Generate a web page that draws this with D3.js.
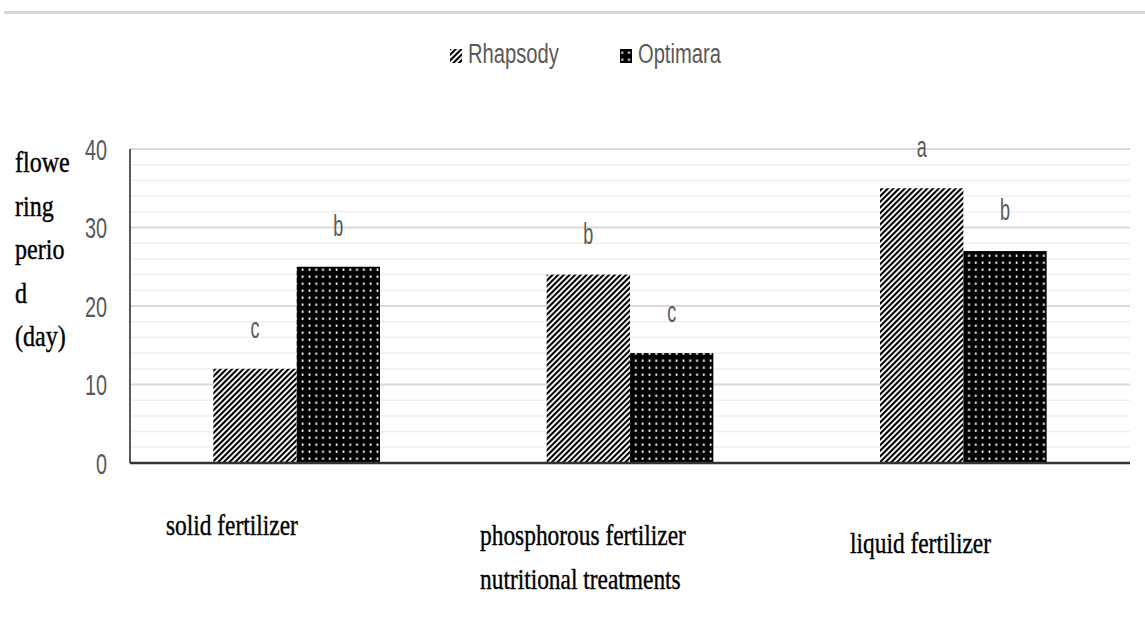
<!DOCTYPE html>
<html><head><meta charset="utf-8">
<script src="https://cdn.jsdelivr.net/npm/d3@7"></script>
<style>body{margin:0;background:#fff}svg{display:block}</style>
</head><body>
<svg id="c" width="1145" height="641"></svg>
<script>
const categories = ["solid fertilizer", "phosphorous fertilizer", "liquid fertilizer"];
const categoryLines = [["solid fertilizer"], ["phosphorous fertilizer", "nutritional treatments"], ["liquid fertilizer"]];
const seriesNames = ["Rhapsody", "Optimara"];
const rhapsody = [12, 24, 35];
const optimara = [25, 14, 27];
const rhapsodyLetters = ["c", "b", "a"];
const optimaraLetters = ["b", "c", "b"];
const yTicks = [0, 10, 20, 30, 40];
const yLabelLines = ["flowe", "ring", "perio", "d", "(day)"];

const svg = d3.select("#c");
const m = {left:130, right:1130, top:149, bottom:463};
const SANS = "Liberation Sans, Arial, sans-serif";
const SERIF = "Liberation Serif, Times New Roman, serif";
const defs = svg.append("defs");
const st = defs.append("pattern").attr("id","stripes").attr("patternUnits","userSpaceOnUse")
  .attr("width",4).attr("height",4).attr("patternTransform","rotate(45)");
st.append("rect").attr("width",4).attr("height",4).attr("fill","#fff");
st.append("rect").attr("width",2.1).attr("height",4).attr("fill","#000");
const dt = defs.append("pattern").attr("id","dots").attr("patternUnits","userSpaceOnUse")
  .attr("width",6.8).attr("height",7);
dt.append("rect").attr("width",6.8).attr("height",7).attr("fill","#000");
dt.append("rect").attr("x",2.6).attr("y",2.5).attr("width",1.7).attr("height",2.4).attr("fill","#fff");

function stext(g, x, y, txt, size, sx, fam, fill, anchor){
  return g.append("text").attr("transform",`translate(${x},${y}) scale(${sx},1)`)
    .attr("font-family",fam).attr("font-size",size).attr("fill",fill)
    .attr("text-anchor",anchor||"start").text(txt);
}

// top border line
svg.append("line").attr("x1",4).attr("x2",1145).attr("y1",12.5).attr("y2",12.5).attr("stroke","#d6d6d6").attr("stroke-width",3);

const x0 = d3.scaleBand().domain(categories).range([m.left,m.right]).paddingInner(0.5).paddingOuter(0.25);
const x1 = d3.scaleBand().domain(seriesNames).range([0,x0.bandwidth()]);
const y = d3.scaleLinear().domain([0,40]).range([m.bottom,m.top]);

// grid
const minor = d3.range(2,40,2).filter(v=>v%10!==0);
svg.append("g").selectAll("line").data(minor).join("line")
  .attr("x1",m.left).attr("x2",m.right).attr("y1",d=>y(d)).attr("y2",d=>y(d))
  .attr("stroke","#efefef").attr("stroke-width",1.5);
svg.append("g").selectAll("line").data(yTicks.filter(v=>v>0)).join("line")
  .attr("x1",m.left).attr("x2",m.right).attr("y1",d=>y(d)).attr("y2",d=>y(d))
  .attr("stroke","#d9d9d9").attr("stroke-width",2);

// y axis via d3
const ya = svg.append("g").attr("transform",`translate(${m.left-23},0)`)
  .call(d3.axisLeft(y).tickValues(yTicks).tickSize(0).tickPadding(0));
ya.select(".domain").remove();
ya.selectAll("text").attr("fill","#595959").attr("font-family",SANS)
  .attr("font-size",30).attr("x",0).attr("dy","0.34em").attr("transform","scale(0.66,1)");

svg.append("line").attr("x1",m.left).attr("x2",m.left).attr("y1",m.top).attr("y2",m.bottom).attr("stroke","#222").attr("stroke-width",1.5);

// bars
const series = [{name:"Rhapsody", vals:rhapsody, letters:rhapsodyLetters, fill:"url(#stripes)"},
                {name:"Optimara", vals:optimara, letters:optimaraLetters, fill:"url(#dots)"}];
series.forEach(s=>{
  svg.append("g").selectAll("rect").data(categories).join("rect")
    .attr("x",(c)=>x0(c)+x1(s.name)).attr("width",x1.bandwidth())
    .attr("y",(c,i)=>y(s.vals[i])).attr("height",(c,i)=>y(0)-y(s.vals[i]))
    .attr("fill",s.fill);
  const lg = svg.append("g");
  categories.forEach((c,i)=>{
    stext(lg, x0(c)+x1(s.name)+x1.bandwidth()/2, y(s.vals[i])-31, s.letters[i], 30, 0.6, SANS, "#595959", "middle");
  });
});

svg.append("line").attr("x1",m.left).attr("x2",m.right).attr("y1",m.bottom).attr("y2",m.bottom).attr("stroke","#333").attr("stroke-width",2.5);

// y label
const yl = svg.append("g");
yLabelLines.forEach((t,i)=>stext(yl, 15, 172+i*43.5, t, 29, 0.83, SERIF, "#000")
  .attr("stroke","#000").attr("stroke-width",0.4));

// category labels
const catPos = [[166,535],[480,545],[850,553]];
const cl = svg.append("g");
categoryLines.forEach((lines,i)=>{
  lines.forEach((t,j)=>stext(cl, catPos[i][0], catPos[i][1]+j*44, t, 30, 0.78, SERIF, "#000")
    .attr("stroke","#000").attr("stroke-width",0.4));
});

// legend
const lgd = [{name:seriesNames[0], x:450, fill:"url(#stripes)"},{name:seriesNames[1], x:620, fill:"url(#dots)"}];
const lgg = svg.append("g");
lgd.forEach(l=>{
  lgg.append("rect").attr("x",l.x).attr("y",49).attr("width",12).attr("height",14).attr("fill",l.fill);
  stext(lgg, l.x+18, 63, l.name, 28, 0.72, SANS, "#595959");
});
</script>
</body></html>
